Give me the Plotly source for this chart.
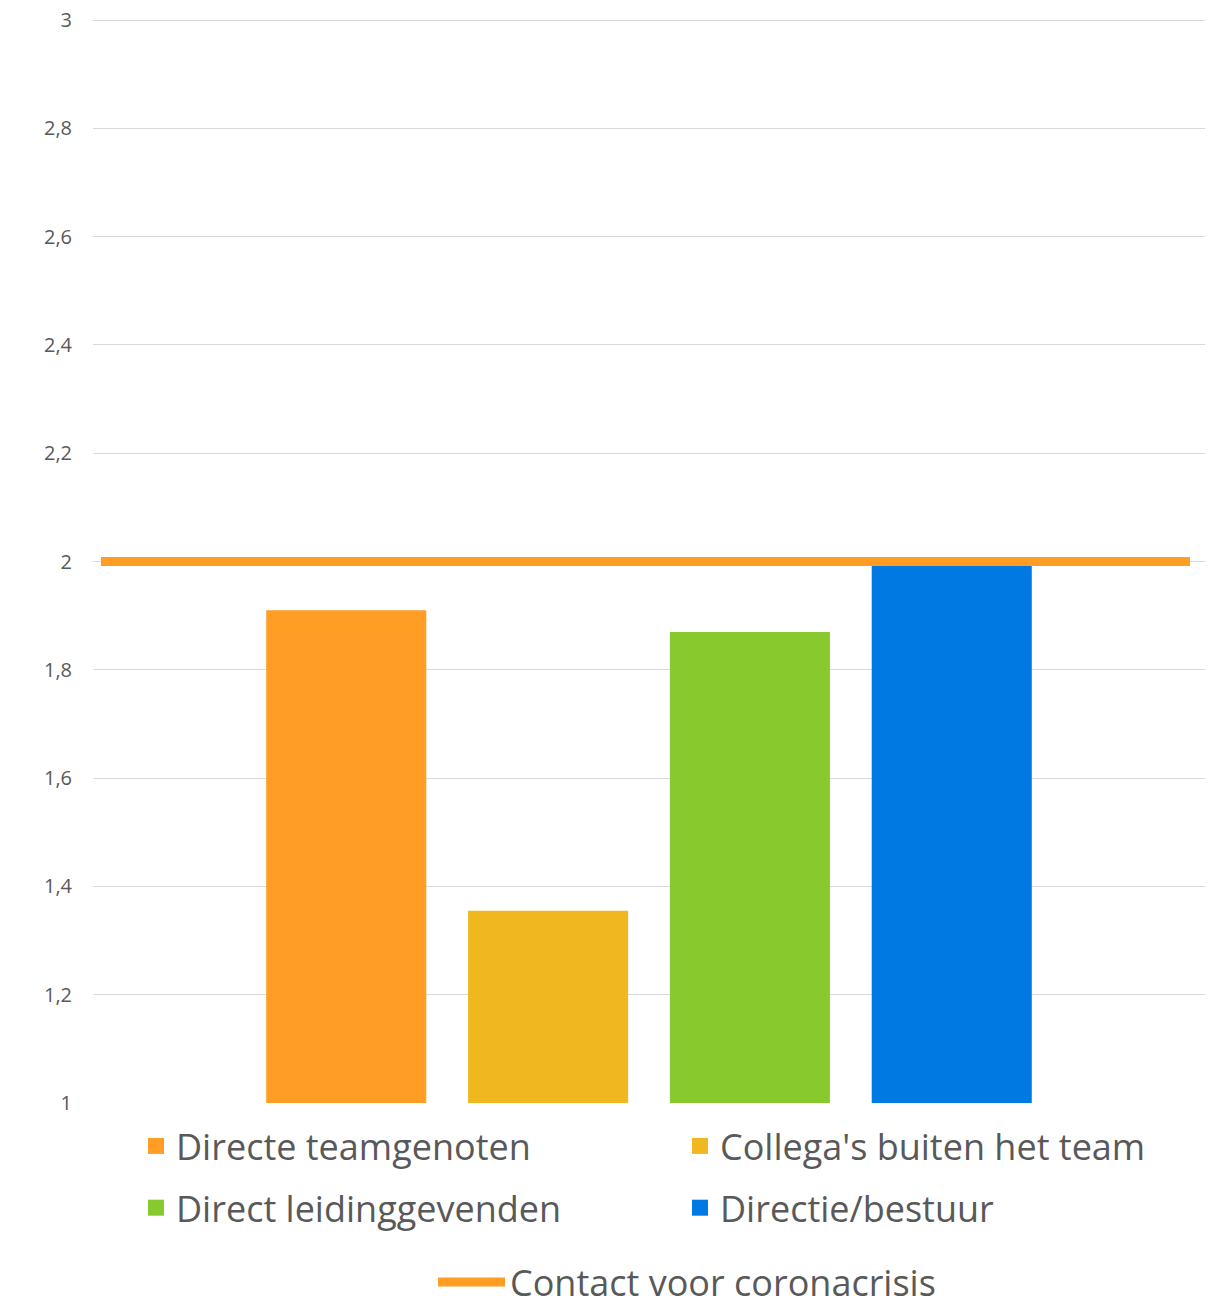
import plotly.graph_objects as go

# ---- data ----
series_names = ["Directe teamgenoten", "Collega's buiten het team",
                "Direct leidinggevenden", "Directie/bestuur"]
series_values = [1.91, 1.355, 1.87, 1.995]
series_colors = ["#FF9D25", "#F0B81E", "#88CA2E", "#0079E3"]
legend_columns = ["legend", "legend3", "legend", "legend3"]
category = [""]
line_name = "Contact voor coronacrisis"
line_value = 2.0
line_color = "#FF9D25"
y_ticks = [1, 1.2, 1.4, 1.6, 1.8, 2, 2.2, 2.4, 2.6, 2.8, 3]

FONT = "Open Sans"
TXT = "#595959"
LEG_FONT = dict(size=36, color=TXT, family=FONT)

PLOT_H = 1085  # plot-area height in px (for legend placement in paper units)
PLOT_W = 1112

fig = go.Figure()

for name, val, col in zip(series_names, series_values, series_colors):
    fig.add_trace(go.Bar(
        x=category, y=[val], name=name, marker=dict(color=col, line=dict(width=0)),
        showlegend=False, legendgroup=name,
    ))

for name, col, leg in zip(series_names, series_colors, legend_columns):
    # legend proxy with square symbol
    fig.add_trace(go.Scatter(
        x=[None], y=[None], mode="markers", name=name, legendgroup=name,
        marker=dict(symbol="square", size=16, color=col), legend=leg,
    ))

fig.add_trace(go.Scatter(
    x=[0, 1], y=[line_value, line_value], xaxis="x2", mode="lines",
    name=line_name, line=dict(color=line_color, width=9), legend="legend2",
))

fig.update_layout(
    width=1210, height=1293,
    margin=dict(l=85, r=13, t=10, b=198, autoexpand=False),
    paper_bgcolor="white", plot_bgcolor="white",
    separators=",.",
    barmode="group", bargap=0.274, bargroupgap=0.207,
    font=dict(family=FONT, color=TXT),
    xaxis=dict(range=[-0.5, 0.5], showticklabels=False, showgrid=False,
               zeroline=False, showline=False, ticks="", automargin=False),
    xaxis2=dict(overlaying="x", range=[-0.00735, 1.0138], visible=False),
    yaxis=dict(range=[1, 3.0037], tickvals=y_ticks, showgrid=True, gridcolor="#D9D9D9",
               gridwidth=1.3, zeroline=False, showline=False, ticks="",
               tickfont=dict(size=20, color=TXT, family=FONT),
               ticklabelstandoff=20, ticklabeloverflow="allow", automargin=False),
    legend=dict(orientation="v", x=43 / PLOT_W, xanchor="left",
                y=-13 / PLOT_H, yanchor="top",
                font=LEG_FONT, tracegroupgap=12, itemclick=False,
                bgcolor="rgba(0,0,0,0)"),
    legend3=dict(orientation="v", x=587 / PLOT_W, xanchor="left",
                 y=-13 / PLOT_H, yanchor="top",
                 font=LEG_FONT, tracegroupgap=12, itemclick=False,
                 bgcolor="rgba(0,0,0,0)"),
    legend2=dict(orientation="h", x=340 / PLOT_W, xanchor="left",
                 y=-149 / PLOT_H, yanchor="top", itemwidth=67,
                 font=LEG_FONT, bgcolor="rgba(0,0,0,0)"),
)

fig.write_html("out.html")
